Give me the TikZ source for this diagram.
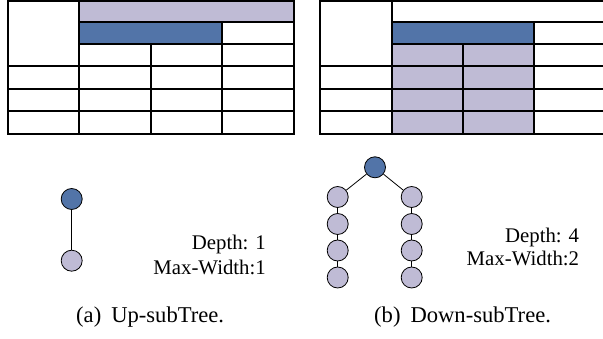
\documentclass[tikz,border=0pt]{standalone}
\usepackage{fontspec}
\setmainfont{Liberation Serif}
\definecolor{lav}{RGB}{191,187,213}
\definecolor{dblue}{RGB}{82,116,168}
\begin{document}
\begin{tikzpicture}[x=1pt,y=-1pt,
  grid/.style={line width=2pt,black,line cap=rect},
  tnode/.style={circle,draw=black,line width=0.8pt,minimum size=21pt,inner sep=0pt},
  tedge/.style={line width=0.8pt,black},
  lbl/.style={font=\fontsize{20.8}{24}\selectfont,inner sep=0pt},
  captext/.style={font=\fontsize{22.6}{26}\selectfont,inner sep=0pt}]
\useasboundingbox (0,0) rectangle (603,339);
\begin{scope}
\clip (0,0) rectangle (603,339);
% left table
\def\ya{1}\def\yb{21.7}\def\yc{43.7}\def\yd{66.3}\def\ye{88.7}\def\yf{110.7}\def\yg{134}
\fill[lav] (79,\ya) rectangle (294,\yb);
\fill[dblue] (79,\yb) rectangle (221.7,\yc);
\draw[grid] (8.3,\ya) -- (294,\ya);
\draw[grid] (79,\yb) -- (294,\yb);
\draw[grid] (79,\yc) -- (294,\yc);
\foreach \y in {\yd,\ye,\yf,\yg} \draw[grid] (8.3,\y) -- (294,\y);
\foreach \x in {8.3,79,294} \draw[grid] (\x,\ya) -- (\x,\yg);
\draw[grid] (221.7,\yb) -- (221.7,\yg);
\draw[grid] (150.7,\yc) -- (150.7,\yg);
% right table
\fill[dblue] (391.7,\yb) rectangle (533.7,\yc);
\fill[lav] (391.7,\yc) rectangle (533.7,\yg);
\draw[grid] (320.3,\ya) -- (612,\ya);
\draw[grid] (391.7,\yb) -- (612,\yb);
\draw[grid] (391.7,\yc) -- (612,\yc);
\foreach \y in {\yd,\ye,\yf,\yg} \draw[grid] (320.3,\y) -- (612,\y);
\foreach \x in {320.3,391.7} \draw[grid] (\x,\ya) -- (\x,\yg);
\draw[grid] (533.7,\yb) -- (533.7,\yg);
\draw[grid] (463,\yc) -- (463,\yg);
\end{scope}
% up-subtree
\node[tnode,fill=dblue] (u0) at (71.7,199) {};
\node[tnode,fill=lav] (u1) at (71.7,260.7) {};
\draw[tedge] (u0) -- (u1);
% down-subtree
\node[tnode,fill=dblue] (d0) at (375,167.3) {};
\foreach \i/\y in {1/197,2/224,3/250.5,4/277.5}{
  \node[tnode,fill=lav] (l\i) at (337.7,\y) {};
  \node[tnode,fill=lav] (r\i) at (411.7,\y) {};
}
\draw[tedge] (d0) -- (l1);
\draw[tedge] (d0) -- (r1);
\foreach \i/\j in {1/2,2/3,3/4}{
  \draw[tedge] (l\i) -- (l\j);
  \draw[tedge] (r\i) -- (r\j);
}
% labels
\node[lbl,anchor=base east] (dep1) at (266,250) {Depth: 1};
\node[lbl,anchor=base east] (mw1) at (266,274.3) {Max-Width:1};
\node[lbl,anchor=base east] (dep4) at (579.3,242.3) {Depth: 4};
\node[lbl,anchor=base east] (mw2) at (579.3,266) {Max-Width:2};
\node[captext,anchor=base west] (capa) at (76,322.3) {(a)\hspace{10pt}Up-subTree.};
\node[captext,anchor=base west] (capb) at (374,322.3) {(b)\hspace{10pt}Down-subTree.};
\end{tikzpicture}
\end{document}
